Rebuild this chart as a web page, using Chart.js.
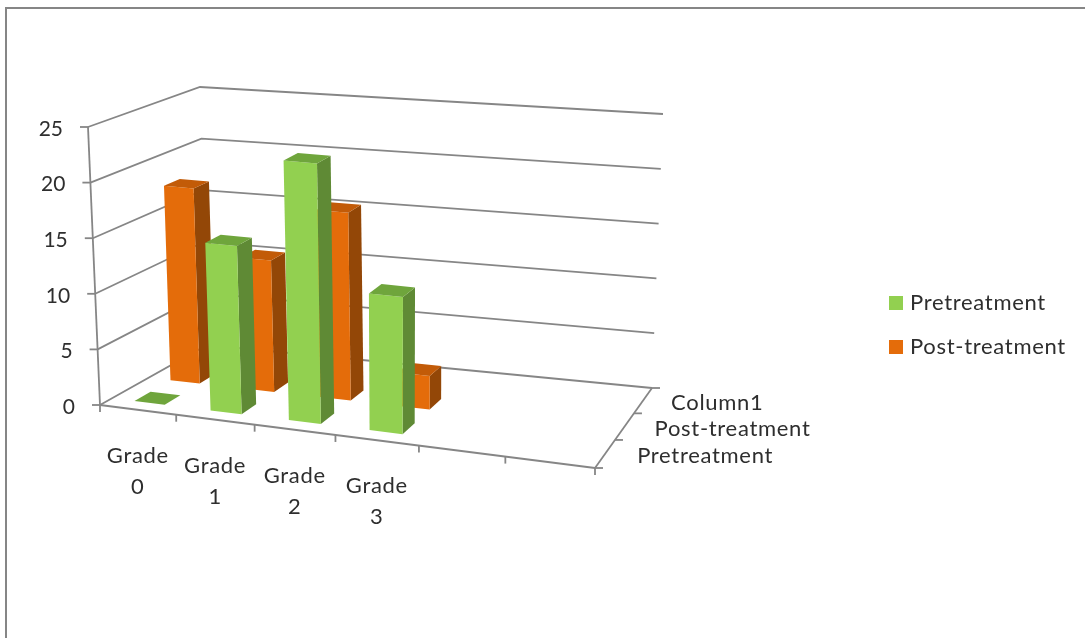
<!DOCTYPE html>
<html>
<head>
<meta charset="utf-8">
<style>
  html, body { margin: 0; padding: 0; background: #fff; }
  #wrap { position: relative; width: 1085px; height: 638px; }
</style>
<script src="https://cdn.jsdelivr.net/npm/chart.js@4"></script>
</head>
<body>
<div id="wrap"><canvas id="c" width="1085" height="638"></canvas></div>
<script>
// Grade distribution before and after treatment
const categories = [["Grade", "0"], ["Grade", "1"], ["Grade", "2"], ["Grade", "3"], "", ""];
const depthLabels = ["Pretreatment", "Post-treatment", "Column1"];
const pretreatment = [0, 15, 23, 12, null, null];
const postTreatment = [18, 12, 17, 3, null, null];
const valueTicks = [0, 5, 10, 15, 20, 25];

const FONT = 'Lato, "Open Sans", sans-serif';
const AXIS = '#868686';
const TEXT = '#2e2e2e';
const TRACKING = '0.7px';

// Corners of the 3D box on screen: front-left, front-right, back-right, back-left
const floorQuad = [[100, 405], [595, 468], [652, 388], [207, 345]];
const ceilQuad = [[88, 127], [616, 174], [663, 114], [200, 87]];

// Unit square to quadrilateral mapping: mild perspective, half homography and half bilinear
function quadMap(q) {
  const [[x0, y0], [x1, y1], [x2, y2], [x3, y3]] = q;
  const dx1 = x1 - x2, dx2 = x3 - x2, sx = x0 - x1 + x2 - x3;
  const dy1 = y1 - y2, dy2 = y3 - y2, sy = y0 - y1 + y2 - y3;
  const den = dx1 * dy2 - dx2 * dy1;
  const g = (sx * dy2 - dx2 * sy) / den;
  const h = (dx1 * sy - sx * dy1) / den;
  const a = x1 - x0 + g * x1, b = x3 - x0 + h * x3;
  const d = y1 - y0 + g * y1, e = y3 - y0 + h * y3;
  return (u, w) => {
    const k = g * u + h * w + 1;
    const hx = (a * u + b * w + x0) / k, hy = (d * u + e * w + y0) / k;
    const bx = (x0 * (1 - u) + x1 * u) * (1 - w) + (x3 * (1 - u) + x2 * u) * w;
    const by = (y0 * (1 - u) + y1 * u) * (1 - w) + (y3 * (1 - u) + y2 * u) * w;
    return [(hx + bx) / 2, (hy + by) / 2];
  };
}
const floorAt = quadMap(floorQuad);
const ceilAt = quadMap(ceilQuad);

// Scale pixels (px, py) plus a depth in 0..1 give a position in the 3D box
function project(chart, px, py, depth) {
  const a = chart.chartArea;
  const u = (px - a.left) / (a.right - a.left);
  const v = (a.bottom - py) / (a.bottom - a.top);
  const f = floorAt(u, depth), c = ceilAt(u, depth);
  return [f[0] + (c[0] - f[0]) * v, f[1] + (c[1] - f[1]) * v];
}

function line(ctx, pts) {
  ctx.beginPath();
  pts.forEach((p, i) => i ? ctx.lineTo(p[0], p[1]) : ctx.moveTo(p[0], p[1]));
  ctx.stroke();
}
function face(ctx, pts, color) {
  ctx.beginPath();
  pts.forEach((p, i) => i ? ctx.lineTo(p[0], p[1]) : ctx.moveTo(p[0], p[1]));
  ctx.closePath();
  ctx.fillStyle = color;
  ctx.fill();
}

const perspective = {
  id: 'perspective',
  // Legend sits beside the box, outside the plot rectangle
  afterLayout(chart) {
    const lg = chart.legend;
    lg.left = 871; lg.right = 1080; lg.top = 270; lg.bottom = 420;
    lg.adjustHitBoxes();
  },
  beforeDraw(chart) {
    const ctx = chart.ctx;
    ctx.fillStyle = AXIS;
    ctx.fillRect(5, 7, 1080, 2);
    ctx.fillRect(5, 7, 2, 631);
    ctx.letterSpacing = TRACKING;
  },
  beforeDatasetsDraw(chart) {
    const { ctx, chartArea: a, scales: { x, y } } = chart;
    const step = x.width / categories.length;
    ctx.save();
    ctx.strokeStyle = AXIS;
    ctx.lineWidth = 1.8;

    // Wall gridlines and value axis
    y.ticks.forEach(t => {
      const py = y.getPixelForValue(t.value);
      const front = project(chart, a.left, py, 0);
      line(ctx, [front, project(chart, a.left, py, 1), project(chart, a.right, py, 1)]);
      line(ctx, [front, [front[0] - 8, front[1]]]);
    });
    line(ctx, [project(chart, a.left, a.top, 0), project(chart, a.left, a.bottom, 0)]);

    // Floor edges
    line(ctx, [project(chart, a.left, a.bottom, 0), project(chart, a.right, a.bottom, 0)]);
    line(ctx, [project(chart, a.right, a.bottom, 0), project(chart, a.right, a.bottom, 1)]);

    // Category ticks on the front edge
    for (let i = 0; i <= categories.length; i++) {
      const p = project(chart, a.left + i * step, a.bottom, 0);
      line(ctx, [p, [p[0], p[1] + 7]]);
    }
    // Series ticks on the right edge
    depthLabels.forEach((_, i) => {
      const p = project(chart, a.right, a.bottom, i / depthLabels.length);
      line(ctx, [p, [p[0] + 8, p[1]]]);
    });
    const back = project(chart, a.right, a.bottom, 1);
    line(ctx, [back, [back[0] + 8, back[1]]]);

    ctx.fillStyle = TEXT;

    // Value labels
    ctx.font = '21px ' + FONT;
    ctx.letterSpacing = '0px';
    ctx.textAlign = 'right';
    ctx.textBaseline = 'middle';
    y.ticks.forEach(t => {
      const p = project(chart, a.left, y.getPixelForValue(t.value), 0);
      ctx.fillText(String(t.value), p[0] - 25, p[1] + 2);
    });

    ctx.font = '22px ' + FONT;
    ctx.letterSpacing = TRACKING;

    // Category labels, two lines each
    ctx.textAlign = 'center';
    categories.forEach((lab, i) => {
      if (!lab) return;
      const p = project(chart, x.getPixelForValue(i), a.bottom, 0);
      lab.forEach((s, j) => ctx.fillText(s, p[0], p[1] + 46 + j * 31));
    });

    // Series labels along the right edge
    ctx.textAlign = 'left';
    depthLabels.forEach((s, i) => {
      const p = project(chart, a.right, a.bottom, (i + 0.5) / depthLabels.length);
      ctx.fillText(s, p[0] + 32 - 2 * i, p[1] + 2);
    });
    ctx.restore();
  },
  // Each bar is a prism built from the element's scale-derived geometry
  beforeDatasetDraw(chart, args) {
    const ctx = chart.ctx;
    const meta = args.meta;
    const ds = chart.data.datasets[args.index];
    const rows = depthLabels.length;
    const d0 = (ds.row + 0.32) / rows, d1 = (ds.row + 0.76) / rows;
    meta.data.forEach((el, i) => {
      const v = ds.data[i];
      if (v === null || v === undefined) return;
      const { x, y, base, width } = el.getProps(['x', 'y', 'base', 'width'], true);
      const l = x - width / 2, r = x + width / 2;
      const P = (px, py, d) => project(chart, px, py, d);
      face(ctx, [P(r, y, d0), P(r, y, d1), P(r, base, d1), P(r, base, d0)], ds.sideColor);
      face(ctx, [P(l, base, d0), P(r, base, d0), P(r, y, d0), P(l, y, d0)], ds.backgroundColor);
      face(ctx, [P(l, y, d0), P(r, y, d0), P(r, y, d1), P(l, y, d1)], ds.topColor);
    });
    return false;
  }
};

new Chart(document.getElementById('c'), {
  type: 'bar',
  data: {
    labels: categories,
    datasets: [
      { label: depthLabels[0], data: pretreatment, row: 0, backgroundColor: '#92D050', borderColor: '#92D050', borderWidth: 8, sideColor: '#5F8A35', topColor: '#6FA53C' },
      { label: depthLabels[1], data: postTreatment, row: 1, backgroundColor: '#E46C0A', borderColor: '#E46C0A', borderWidth: 8, sideColor: '#934707', topColor: '#C25B08' }
    ]
  },
  options: {
    responsive: false,
    animation: false,
    datasets: { bar: { grouped: false, barPercentage: 0.4, categoryPercentage: 1 } },
    layout: { padding: { left: 100, top: 127, right: 490, bottom: 233 } },
    scales: {
      x: {
        offset: true,
        ticks: { display: false },
        grid: { display: false },
        border: { display: false }
      },
      y: {
        min: valueTicks[0],
        max: valueTicks[valueTicks.length - 1],
        ticks: { display: false, stepSize: valueTicks[1] - valueTicks[0] },
        grid: { display: false },
        border: { display: false }
      }
    },
    plugins: {
      tooltip: { enabled: false },
      legend: {
        position: 'chartArea',
        align: 'start',
        padding: 0,
        labels: {
          boxWidth: 6,
          boxHeight: 6,
          padding: 22,
          color: TEXT,
          font: { family: FONT, size: 22 }
        }
      }
    }
  },
  plugins: [perspective]
});
</script>
</body>
</html>
